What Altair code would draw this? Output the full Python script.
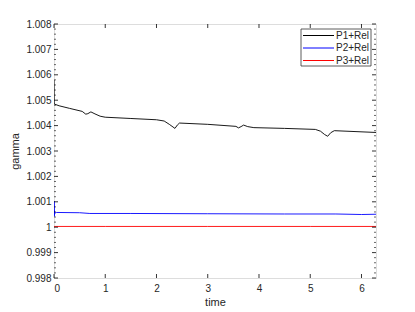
import altair as alt
import pandas as pd

# ---- data ----
p1_t = [0.0, 0.004, 0.1, 0.3, 0.55, 0.62, 0.66, 0.72, 0.8, 0.9, 1.0, 1.5, 2.0, 2.15, 2.25,
        2.36, 2.41, 2.45, 3.0, 3.55, 3.6, 3.65, 3.70, 3.78, 3.9, 4.5, 5.1, 5.2, 5.28, 5.34,
        5.4, 5.47, 6.2832]
p1_v = [1.0058, 1.00485, 1.00478, 1.00468, 1.00456, 1.00445, 1.00447, 1.00454, 1.00446,
        1.00437, 1.00433, 1.00428, 1.00423, 1.00418, 1.00405, 1.00389, 1.00403, 1.0041,
        1.00405, 1.00397, 1.00391, 1.00396, 1.00402, 1.00396, 1.00392, 1.00389, 1.00385,
        1.00378, 1.00365, 1.00358, 1.00372, 1.0038, 1.00373]

p2_t = [0.0, 0.003, 0.006, 0.01, 0.015, 0.05, 0.5, 0.7, 1.5, 3.0, 4.5, 5.5, 6.0, 6.2832]
p2_v = [1.0004, 1.00103, 1.00045, 1.00065, 1.00055, 1.00058, 1.00057, 1.00054, 1.00054,
        1.00053, 1.00052, 1.00052, 1.00050, 1.00051]

p3_t = [0.0, 0.003, 1.0, 3.0, 5.0, 6.2832]
p3_v = [1.0000, 1.00003, 1.00003, 1.00003, 1.00003, 1.00003]

series_names = ["P1+Rel", "P2+Rel", "P3+Rel"]
series_colors = ["#000000", "#0000ff", "#ff0000"]

x_ticks = [0, 1, 2, 3, 4, 5, 6]
y_ticks = [0.998, 0.999, 1.000, 1.001, 1.002, 1.003, 1.004, 1.005, 1.006, 1.007, 1.008]
y_minor = [round(0.998 + 0.0002 * i, 4) for i in range(51) if i % 5 != 0]

x_domain = [0, 6.2832]
y_domain = [0.998, 1.008]

W, H = 322, 254

rows = []
for name, ts, vs in zip(series_names, [p1_t, p2_t, p3_t], [p1_v, p2_v, p3_v]):
    for i, (t, v) in enumerate(zip(ts, vs)):
        rows.append({"time": t, "gamma": v, "series": name, "order": i})
df = pd.DataFrame(rows)

xs = alt.Scale(domain=x_domain, nice=False, zero=False)
ys = alt.Scale(domain=y_domain, nice=False, zero=False)

FONT = "Liberation Sans"
TXT = "#262626"

xaxis = alt.Axis(values=x_ticks, ticks=False, tickSize=0, domain=False, grid=False,
                 labelPadding=5, titlePadding=3, format="d", labelOverlap=False,
                 titleFontWeight="normal", titleFont=FONT, labelFont=FONT,
                 labelFontSize=10, titleFontSize=11, labelColor=TXT, titleColor=TXT)
yaxis = alt.Axis(values=y_ticks, ticks=False, tickSize=0, domain=False, grid=False,
                 labelPadding=3, titlePadding=5, format="~g", labelOverlap=False,
                 labelFlush=False, labelBound=False,
                 titleFontWeight="normal", titleFont=FONT, labelFont=FONT,
                 labelFontSize=10, titleFontSize=11, labelColor=TXT, titleColor=TXT)

def X():
    return alt.X("time:Q", scale=xs, title="time", axis=xaxis)

def Y():
    return alt.Y("gamma:Q", scale=ys, title="gamma", axis=yaxis)

lines = alt.Chart(df).mark_line(strokeWidth=0.9, clip=True).encode(
    x=X(), y=Y(),
    color=alt.Color("series:N", scale=alt.Scale(domain=series_names, range=series_colors),
                    legend=None),
    order="order:Q",
)

dfy = pd.DataFrame({"gamma": y_ticks})
dfym = pd.DataFrame({"gamma": y_minor})
dfx = pd.DataFrame({"time": x_ticks})

yl = alt.Chart(dfy).mark_rule(color="black", strokeWidth=0.8).encode(
    y=Y(), x=alt.value(0), x2=alt.value(4))
yr = alt.Chart(dfy).mark_rule(color="black", strokeWidth=0.8).encode(
    y=Y(), x=alt.value(W - 4), x2=alt.value(W))
yml = alt.Chart(dfym).mark_rule(color="black", strokeWidth=0.6).encode(
    y=Y(), x=alt.value(0), x2=alt.value(2))
ymr = alt.Chart(dfym).mark_rule(color="black", strokeWidth=0.6).encode(
    y=Y(), x=alt.value(W - 2), x2=alt.value(W))
xb = alt.Chart(dfx).mark_rule(color="black", strokeWidth=0.8).encode(
    x=X(), y=alt.value(H - 4), y2=alt.value(H))
xt = alt.Chart(dfx).mark_rule(color="black", strokeWidth=0.8).encode(
    x=X(), y=alt.value(0), y2=alt.value(4))

# legend box (top-right, inside the axes)
LX0, LX1, LY0, LY1 = W - 75, W - 5, 5, 42
leg_df = pd.DataFrame({"series": series_names, "color": series_colors})
legend_layers = [
    alt.Chart(leg_df.head(1)).mark_rect(fill="white", stroke="#333333", strokeWidth=0.8).encode(
        x=alt.value(LX0), x2=alt.value(LX1), y=alt.value(LY0), y2=alt.value(LY1))
]
for i, (name, col) in enumerate(zip(series_names, series_colors)):
    ent = pd.DataFrame({"series": [name], "color": [col]})
    yy = LY0 + 6.5 + 12.5 * i
    legend_layers.append(
        alt.Chart(ent).mark_rule(strokeWidth=1).encode(
            x=alt.value(LX0 + 2), x2=alt.value(LX0 + 33), y=alt.value(yy),
            color=alt.Color("color:N", scale=None, legend=None)))
    legend_layers.append(
        alt.Chart(ent).mark_text(align="left", baseline="middle", font=FONT, fontSize=10,
                                 color=TXT).encode(
            x=alt.value(LX0 + 35), y=alt.value(yy), text="series:N"))

chart = alt.layer(lines, yl, yr, yml, ymr, xb, xt, *legend_layers).properties(
    width=W, height=H,
    autosize=alt.AutoSizeParams(type="none"),
    padding={"left": 46, "top": 16, "right": 31, "bottom": 28},
).configure_view(stroke="#262626", strokeWidth=1).configure(background="white")

chart.save("out.html", embed_options={"renderer": "svg", "actions": False})
